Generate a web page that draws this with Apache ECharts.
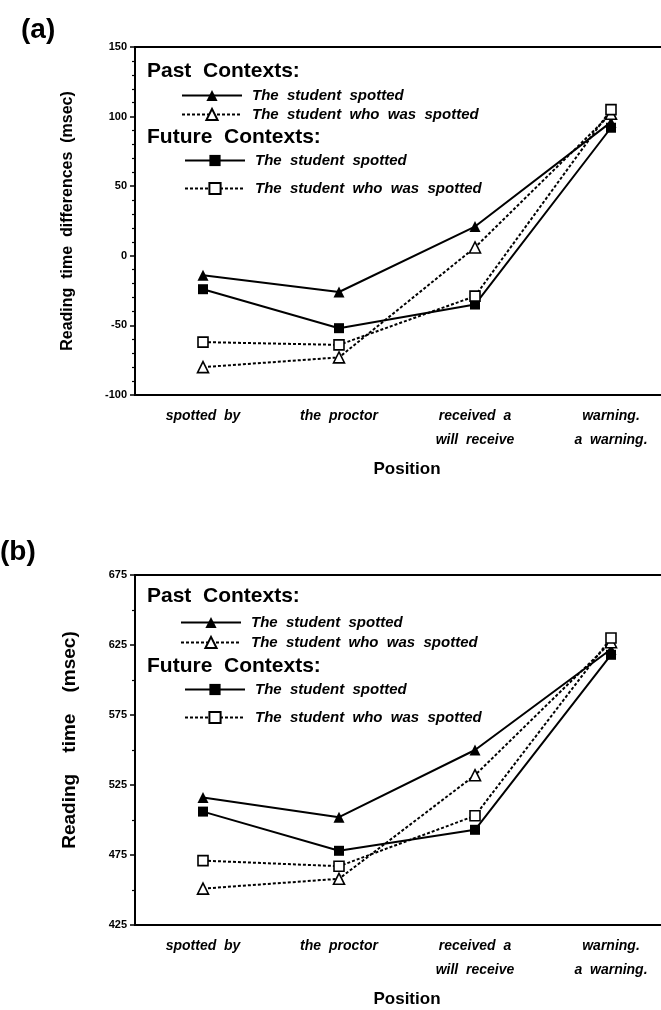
<!DOCTYPE html>
<html>
<head>
<meta charset="utf-8">
<script src="https://cdn.jsdelivr.net/npm/echarts@6/dist/echarts.min.js"></script>
<style>
html,body{margin:0;padding:0;background:#fff;}
#chart{width:661px;height:1010px;}
</style>
</head>
<body>
<div id="chart"></div>
<script>
// ---- data ----
const categories = ['spotted  by', 'the  proctor', 'received  a\nwill  receive', 'warning.\na  warning.'];
const aTicks = { min: -100, max: 150, interval: 50 };
const bTicks = { min: 425, max: 675, interval: 50 };

// Panel (a): reading time differences (msec)
const aPastSpotted = [-14, -26, 21, 96];
const aPastWhoWas  = [-80, -73, 6, 102];
const aFutSpotted  = [-24, -52, -35, 92];
const aFutWhoWas   = [-62, -64, -29, 105];

// Panel (b): reading time (msec)
const bPastSpotted = [516, 502, 550, 622];
const bPastWhoWas  = [451, 458, 532, 627];
const bFutSpotted  = [506, 478, 493, 618];
const bFutWhoWas   = [471, 467, 503, 630];

const legendLabels = {
  aPS: 'The  student  spotted', aPW: 'The  student  who  was  spotted',
  aFS: 'The  student  spotted', aFW: 'The  student  who  was  spotted',
  bPS: 'The  student  spotted', bPW: 'The  student  who  was  spotted',
  bFS: 'The  student  spotted', bFW: 'The  student  who  was  spotted'
};

const FONT = 'Liberation Sans, Arial, sans-serif';

function mk(name, data, symbol, filled, dotted, idx) {
  return {
    name: name, type: 'line', data: data,
    xAxisIndex: idx, yAxisIndex: idx,
    symbol: symbol, symbolSize: symbol === 'triangle' ? 11 : 10,
    showSymbol: true,
    lineStyle: { color: '#000', width: 2, type: dotted ? [3, 2] : 'solid' },
    itemStyle: filled ? { color: '#000' } : { color: '#fff', borderColor: '#000', borderWidth: 1.6 },
    emphasis: { disabled: true },
    animation: false
  };
}

function xAxis(idx) {
  return {
    type: 'category', gridIndex: idx, data: categories, boundaryGap: true,
    axisLine: { onZero: false, lineStyle: { color: '#000', width: 2 } },
    axisTick: { alignWithLabel: true, length: 5, lineStyle: { color: '#000', width: 1.5 } },
    axisLabel: { color: '#000', fontFamily: FONT, fontStyle: 'italic', fontWeight: 'bold', fontSize: 14, lineHeight: 24, margin: 9, interval: 0 },
    name: 'Position', nameLocation: 'middle', nameGap: 66,
    nameTextStyle: { color: '#000', fontFamily: FONT, fontWeight: 'bold', fontSize: 17 },
    splitLine: { show: false }
  };
}

function yAxis(idx, t, name, nameSize, minorSplit, nameGap, namePad) {
  return {
    type: 'value', gridIndex: idx, min: t.min, max: t.max, interval: t.interval,
    axisLine: { show: true, onZero: false, lineStyle: { color: '#000', width: 2 } },
    axisTick: { show: true, length: 5, lineStyle: { color: '#000', width: 1.5 } },
    minorTick: { show: true, splitNumber: minorSplit, length: 3, lineStyle: { color: '#000', width: 1.2 } },
    axisLabel: { color: '#000', fontFamily: FONT, fontWeight: 'bold', fontSize: 11, margin: 8 },
    splitLine: { show: false },
    name: name, nameLocation: 'middle', nameRotate: 90, nameGap: nameGap,
    nameTextStyle: { color: '#000', fontFamily: FONT, fontWeight: 'bold', fontSize: nameSize, padding: namePad }
  };
}

function legend(names, left, top, gap) {
  return {
    data: names, left: left, top: top, orient: 'vertical', padding: 0,
    itemWidth: 60, itemHeight: 14, itemGap: gap,
    formatter: function (n) { return legendLabels[n]; },
    textStyle: { color: '#000', fontFamily: FONT, fontStyle: 'italic', fontWeight: 'bold', fontSize: 15, padding: [0, 0, 0, 5] },
    selectedMode: false
  };
}

function header(text, x, yc) {
  return { type: 'text', left: x, top: yc - 11,
    style: { text: text, fill: '#000', font: 'bold 21px ' + FONT } };
}

const option = {
  animation: false,
  backgroundColor: '#fff',
  grid: [
    { left: 135, top: 47, width: 544, height: 348, outerBoundsMode: 'none', containLabel: false, show: true, borderColor: '#000', borderWidth: 2, backgroundColor: 'transparent' },
    { left: 135, top: 575, width: 544, height: 350, outerBoundsMode: 'none', containLabel: false, show: true, borderColor: '#000', borderWidth: 2, backgroundColor: 'transparent' }
  ],
  xAxis: [xAxis(0), xAxis(1)],
  yAxis: [
    yAxis(0, aTicks, 'Reading  time  differences  (msec)', 16, 5, 59, [0, 0, 0, 0]),
    yAxis(1, bTicks, 'Reading    time    (msec)', 19, 2, 56, [0, 0, 0, 20])
  ],
  legend: [
    legend(['aPS', 'aPW'], 181, 88, 4),
    legend(['aFS', 'aFW'], 184, 153, 13),
    legend(['bPS', 'bPW'], 180, 615, 5),
    legend(['bFS', 'bFW'], 184, 682, 13)
  ],
  graphic: [
    { type: 'text', left: 21, top: 16, style: { text: '(a)', fill: '#000', font: 'bold 28px ' + FONT } },
    { type: 'text', left: 0, top: 538, style: { text: '(b)', fill: '#000', font: 'bold 28px ' + FONT } },
    header('Past  Contexts:', 147, 72),
    header('Future  Contexts:', 147, 138),
    header('Past  Contexts:', 147, 597),
    header('Future  Contexts:', 147, 667)
  ],
  series: [
    mk('aPS', aPastSpotted, 'triangle', true, false, 0),
    mk('aPW', aPastWhoWas, 'triangle', false, true, 0),
    mk('aFS', aFutSpotted, 'rect', true, false, 0),
    mk('aFW', aFutWhoWas, 'rect', false, true, 0),
    mk('bPS', bPastSpotted, 'triangle', true, false, 1),
    mk('bPW', bPastWhoWas, 'triangle', false, true, 1),
    mk('bFS', bFutSpotted, 'rect', true, false, 1),
    mk('bFW', bFutWhoWas, 'rect', false, true, 1)
  ]
};

const chart = echarts.init(document.getElementById('chart'), null, { renderer: 'canvas' });
chart.setOption(option);
</script>
</body>
</html>
